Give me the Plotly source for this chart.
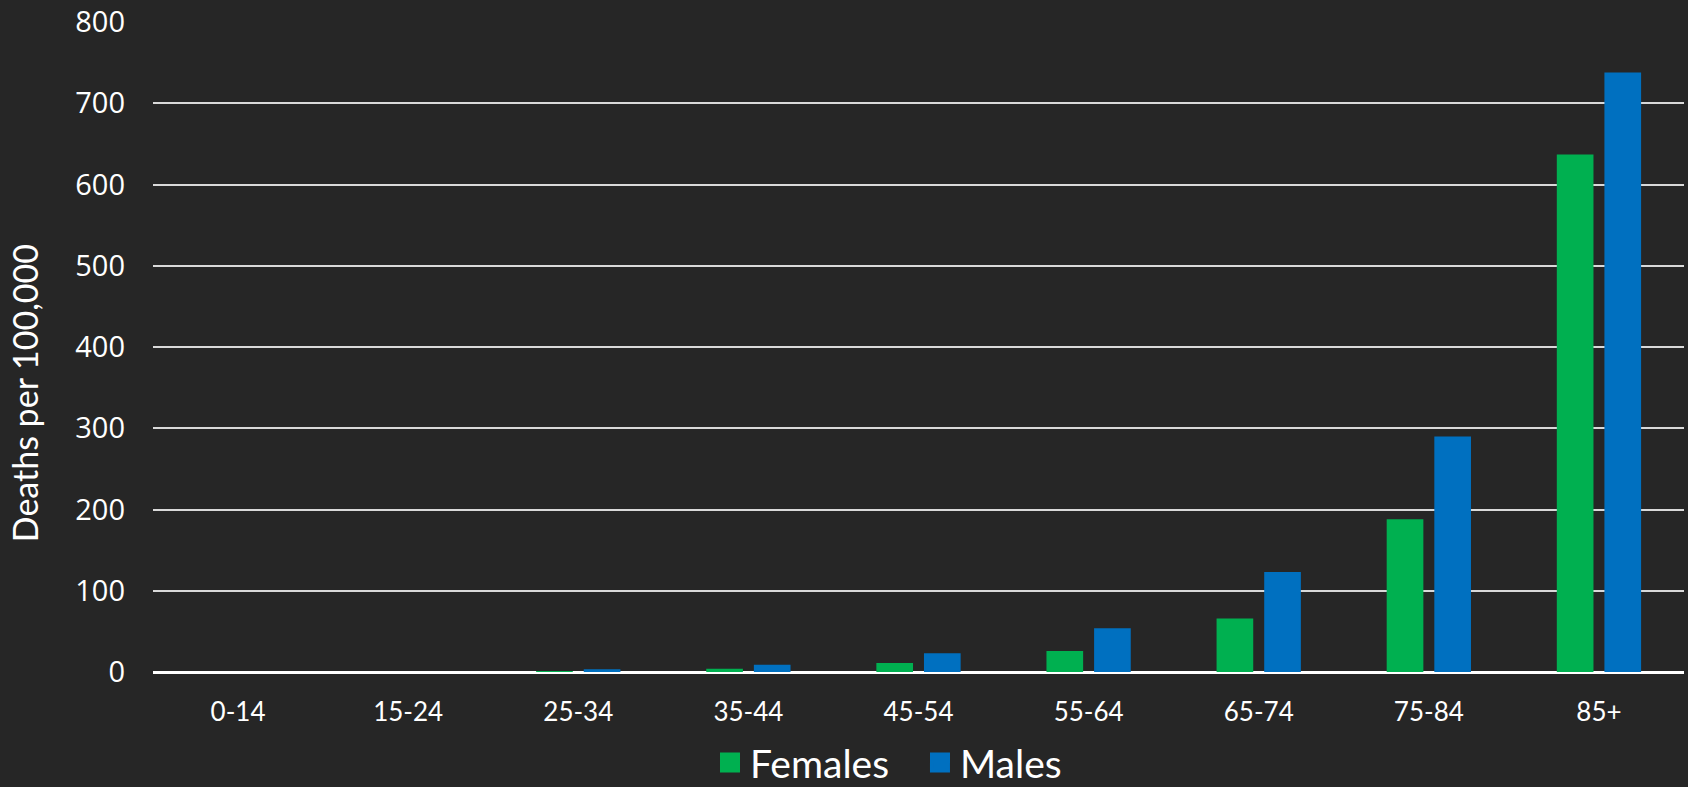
import plotly.graph_objects as go

age_groups = ["0-14", "15-24", "25-34", "35-44", "45-54", "55-64", "65-74", "75-84", "85+"]
females = [0, 0, 0.3, 4, 11, 26, 66, 188, 637]
males = [0, 0, 3.3, 9, 23, 54, 123, 290, 738]
y_ticks = [0, 100, 200, 300, 400, 500, 600, 700, 800]

GREEN = "#00B050"
BLUE = "#0070C0"
BG = "#262626"
CAL = "Lato, 'Liberation Sans', sans-serif"
SEG = "'Open Sans', 'Noto Sans', sans-serif"

fig = go.Figure()
fig.add_trace(go.Bar(x=age_groups, y=females, name="Females", marker=dict(color=GREEN, line=dict(width=0)), showlegend=False))
fig.add_trace(go.Bar(x=age_groups, y=males, name="Males", marker=dict(color=BLUE, line=dict(width=0)), showlegend=False))
# legend entries with larger square keys
fig.add_trace(go.Scatter(x=[None], y=[None], mode="markers", name="Females",
                         marker=dict(symbol="square", size=16, color=GREEN, line=dict(width=4, color=GREEN))))
fig.add_trace(go.Scatter(x=[None], y=[None], mode="markers", name="Males",
                         marker=dict(symbol="square", size=16, color=BLUE, line=dict(width=4, color=BLUE))))

fig.update_layout(
    width=1688, height=787,
    paper_bgcolor=BG, plot_bgcolor=BG,
    margin=dict(l=153, r=4, t=22, b=115, autoexpand=False),
    barmode="group", bargap=0.44, bargroupgap=0.23,
    showlegend=True,
    legend=dict(orientation="h", x=0.3638, xanchor="left", y=-0.1395, yanchor="middle",
                entrywidth=165, itemclick=False,
                font=dict(family=CAL, size=39, color="white"), bgcolor="rgba(0,0,0,0)"),
    xaxis=dict(type="category", showgrid=False, zeroline=False, showline=False, automargin=False,
               tickfont=dict(family=CAL, size=26, color="white"), ticks="",
               ticklabelstandoff=22),
    yaxis=dict(range=[0, 800], tickvals=y_ticks, showgrid=True, gridcolor="#D9D9D9", gridwidth=1.5,
               zeroline=True, zerolinecolor="#FFFFFF", zerolinewidth=2.5, showline=False, automargin=False,
               tickfont=dict(family=SEG, size=29, color="white"), ticks="",
               ticklabelstandoff=27),
    annotations=[dict(text="Deaths per 100,000", xref="paper", yref="paper",
                      x=-0.0843, y=0.4288, xanchor="center", yanchor="middle",
                      textangle=-90, showarrow=False,
                      font=dict(family=CAL, size=34, color="white"))],
)

fig.write_html("out.html")
